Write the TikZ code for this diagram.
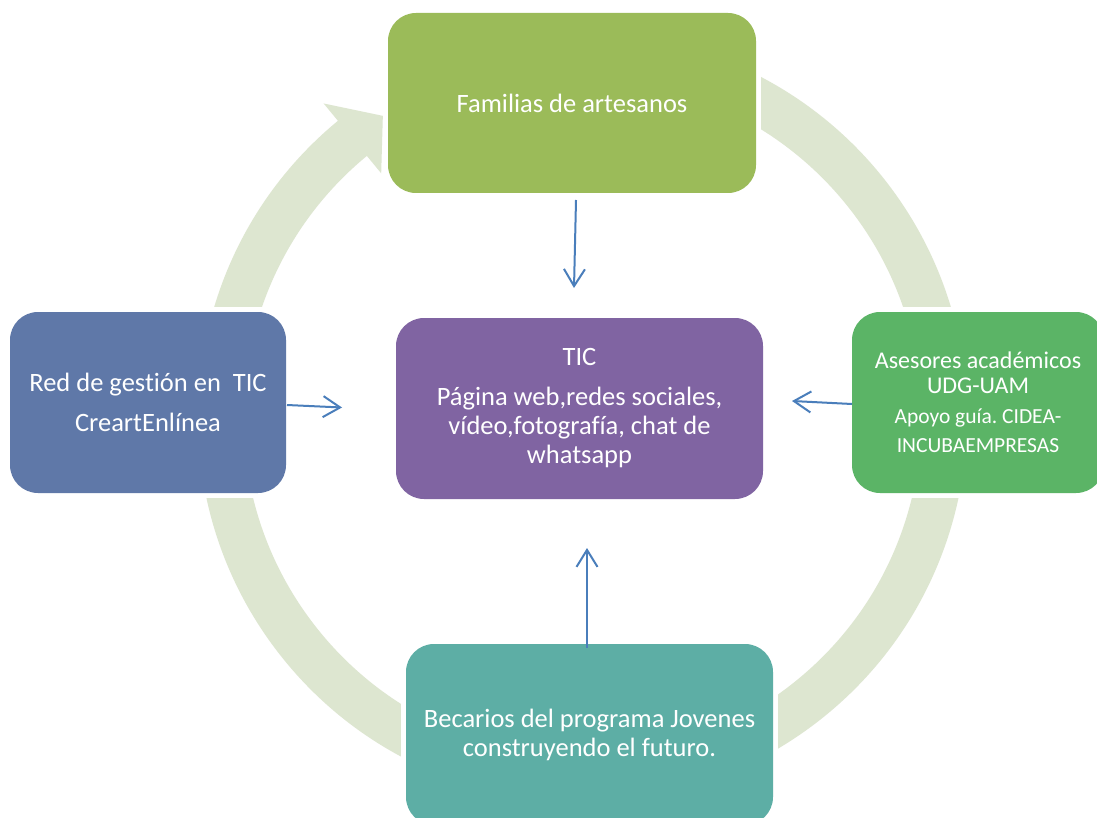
\documentclass[tikz,border=0pt]{standalone}
\usepackage{fontspec}
\setmainfont{Carlito}[Ligatures=NoCommon]
\usetikzlibrary{arrows.meta,calc}
\definecolor{ringc}{HTML}{DDE6D0}
\definecolor{famc}{HTML}{9BBB59}
\definecolor{redc}{HTML}{5F78A8}
\definecolor{ticc}{HTML}{8064A2}
\definecolor{asec}{HTML}{5BB466}
\definecolor{becc}{HTML}{5DAEA5}
\definecolor{arrc}{HTML}{4A7EBB}
\tikzset{
  boxnode/.style={rounded corners=28pt, inner sep=0pt, minimum height=181pt, text=white, align=flush center,
    font=\fontsize{26.5}{29}\selectfont\frenchspacing},
  maskrect/.style={fill=white, draw=none},
  conn/.style={draw=arrc, line width=2pt, -{Straight Barb[length=17pt,width=21pt,line width=2pt]}},
  ringstroke/.style={draw=ringc, line width=45.5pt},
}
\begin{document}
\begin{tikzpicture}[x=1pt,y=-1pt]
\useasboundingbox (0,0) rectangle (1097,818);
\fill[white] (0,0) rectangle (1097,818);
% ring centre
\coordinate (rc) at (582.5,417.5);
% ring shaft (visual angles 129 -> 450, counterclockwise)
\draw[ringstroke] (rc) ++(-129:361.75) arc[start angle=-129, end angle=-450, radius=361.75];
% arrow head at the top-left
\fill[ringc] ($(rc)+(-129.5:407)$) coordinate (hb1)
  -- ($(rc)+(-123.5:361.75)$) coordinate (ht)
  -- ($(rc)+(-129.5:316.5)$) coordinate (hb2) -- cycle;
% white margins round the boxes
\fill[maskrect] (383,-10) rectangle (761,198);
\fill[maskrect] (-10,307) rectangle (291,498);
\fill[maskrect] (847,307) rectangle (1110,498);
\fill[maskrect] (401,639) rectangle (778,830);
% boxes
\node[boxnode, fill=famc, minimum width=368pt, minimum height=180pt] (fam) at (572,103) {Familias de artesanos};
\node[boxnode, fill=redc, minimum width=276pt, text width=260pt] (red) at (148,402.5)
  {Red de gestión en\ \ TIC\\[11pt]CreartEnlínea};
\node[boxnode, fill=ticc, minimum width=367pt, text width=350pt] (tic) at (579.5,408.5)
  {TIC\\[11pt]Página web,redes sociales,\\vídeo,fotografía, chat de\\whatsapp};
\node[boxnode, fill=asec, minimum width=252pt, text width=240pt] (ase) at (978,402.5)
  {{\fontsize{24}{25}\selectfont Asesores académicos\\UDG-UAM\par}\vspace{1pt}%
   {\fontsize{21.5}{29}\selectfont Apoyo guía. CIDEA-\\INCUBAEMPRESAS\par}};
\node[boxnode, fill=becc, minimum width=367pt, text width=350pt] (bec) at (589.5,734.5)
  {Becarios del programa Jovenes\\construyendo el futuro.};
% connectors
\coordinate (a1s) at (576,200);  \coordinate (a1e) at (574,288);
\coordinate (a2s) at (287,405);  \coordinate (a2e) at (342,407.5);
\coordinate (a3s) at (852,404);  \coordinate (a3e) at (792,401);
\coordinate (a4s) at (587,648);  \coordinate (a4e) at (587,548);
\draw[conn] (a1s) -- (a1e);
\draw[conn] (a2s) -- (a2e);
\draw[conn] (a3s) -- (a3e);
\draw[conn] (a4s) -- (a4e);
\end{tikzpicture}
\end{document}
